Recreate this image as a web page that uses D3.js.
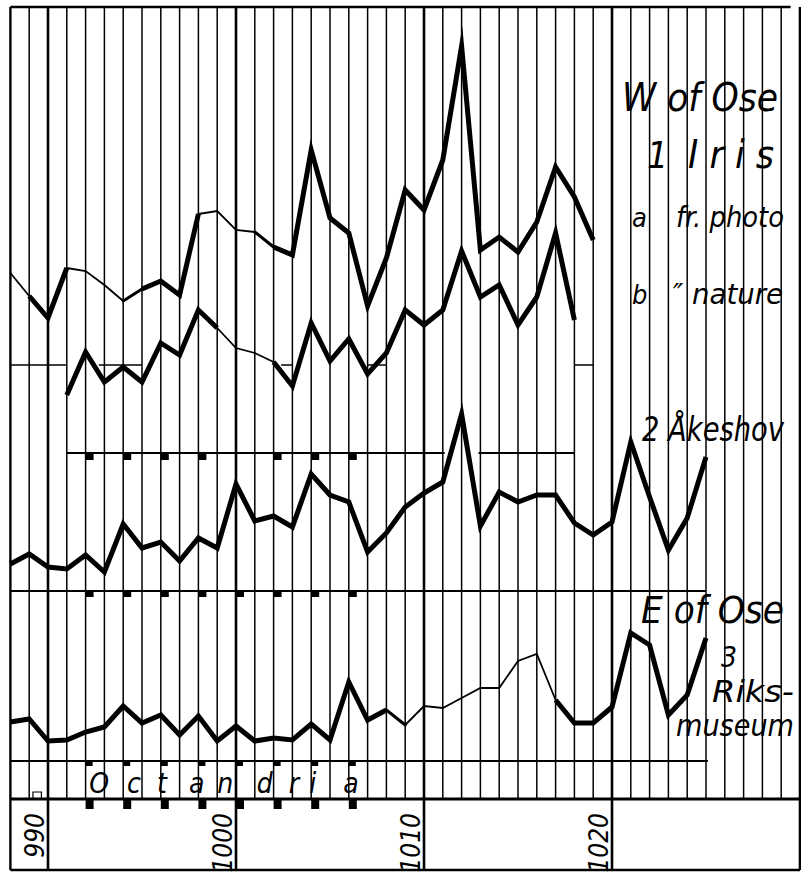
<!DOCTYPE html>
<html>
<head>
<meta charset="utf-8">
<script src="https://cdn.jsdelivr.net/npm/d3@7/dist/d3.min.js"></script>
<style>
body { margin: 0; background: #fff; }
svg { display: block; }
text { font-family: "DejaVu Sans Condensed", "DejaVu Sans", sans-serif; font-style: italic; fill: #000; }
</style>
</head>
<body>
<svg id="chart" width="801" height="872"></svg>
<script>
// years on the horizontal axis
var years = [988,989,990,991,992,993,994,995,996,997,998,999,1000,1001,1002,1003,1004,1005,1006,1007,
	1008,1009,1010,1011,1012,1013,1014,1015,1016,1017,1018,1019,1020,1021,1022,1023,1024,1025];
var decadeLabels = [990, 1000, 1010, 1020];

// ring values (null = no record)
var irisPhoto = [12.7,10.4,8.2,13.2,12.9,11.5,9.9,11.1,11.9,10.5, 18.6,18.9,17.0,16.8,15.3,14.5,25.0,18.2,16.7,9.4,
	14.2,21.0,19.0,24.0,35.4,15.0,16.3,14.8,17.8,23.3, 20.3,16.0,null,null,null,null,null,null];
var irisNature = [null,null,null,0.5,4.8,1.8,3.3,1.8,5.7,4.5, 9.0,7.2,5.2,4.7,3.8,1.4,7.7,3.9,6.1,2.6,
	4.7,9.0,7.5,9.0,14.9,10.3,11.5,7.5,10.3,16.7, 8.0,null,null,null,null,null,null,null];
var akeshov = [3.6,4.6,3.3,3.1,4.5,2.8,7.6,5.2,5.8,3.9, 6.2,5.2,11.6,7.9,8.4,7.3,12.6,10.5,9.8,4.8,
	6.7,9.3,10.7,11.8,18.6,7.4,10.8,9.8,10.5,10.5, 7.7,6.5,7.8,15.8,10.3,5.0,8.2,14.3];
var riksmuseum = [3.8,4.1,1.9,2.0,2.8,3.3,5.4,3.7,4.5,2.5, 4.4,1.9,3.4,1.9,2.2,2.0,3.6,2.0,7.8,4.0,
	5.0,3.5,5.4,5.2,6.2,7.2,7.2,9.9,10.6,6.0, 3.7,3.7,5.3,12.7,11.5,4.5,6.5,12.2];

// certainty of the segment ending at each year: 0 weak, 1 medium, 2 sure
var irisPhotoQ = [null,0,2,2,0,0,0,1,2,2, 2,0,0,0,1,2,2,2,2,2, 2,2,2,2,2,2,2,2,2,2, 2,2,null,null,null,null,null,null];
var irisNatureQ = [null,null,null,null,2,2,2,2,2,2, 2,2,0,0,0,2,2,2,2,2, 2,2,2,2,2,2,2,2,2,2, 2,null,null,null,null,null,null,null];
var akeshovQ = [null,2,2,2,2,2,2,2,2,2, 2,2,2,2,2,2,2,2,2,2, 2,2,2,2,2,2,2,2,2,2, 2,2,2,2,2,2,2,2];
var riksmuseumQ = [null,2,2,2,2,2,2,2,2,2, 2,2,2,2,2,2,2,2,2,2, 2,1,0,0,0,0,0,0,0,0, 2,2,2,2,2,2,2,2];

var markerYears = [992, 994, 996, 998, 1000, 1002, 1004, 1006];
var octandria = ["O","c","t","a","n","d","r","i","a"];
var octandriaAt = [992.2, 994.2, 995.8, 997.5, 999.0, 1001.1, 1002.8, 1003.9, 1005.7];

var svg = d3.select("#chart");

var x = d3.scaleLinear().domain([990, 1020]).range([48, 612]);
var y1 = d3.scaleLinear().domain([0, 40]).range([400, 0]);
var y2 = d3.scaleLinear().domain([0, 20]).range([600, 400]);
var y3 = d3.scaleLinear().domain([0, 20]).range([760, 560]);
var w = d3.scaleOrdinal().domain([0, 1, 2]).range([1.8, 3, 5]);

var grid = svg.append("g");

// vertical year rules
var allYears = d3.range(988, 1031);
grid.selectAll("line.yr")
	.data(allYears)
	.enter().append("line")
	.attr("x1", function(d) { return x(d); })
	.attr("x2", function(d) { return x(d); })
	.attr("y1", 7)
	.attr("y2", function(d) { return (d % 10 == 0 || d == 988 || d == 1030) ? 870 : 799; })
	.attr("stroke", "#000")
	.attr("stroke-width", function(d) { return (d % 10 == 0) ? 2.6 : (d == 988 ? 2.4 : 1.5); });

// horizontal rules
function hrule(y, from, to, sw) {
	grid.append("line")
		.attr("x1", x(from)).attr("x2", x(to))
		.attr("y1", y).attr("y2", y)
		.attr("stroke", "#000").attr("stroke-width", sw);
}
hrule(7, 988, 1029.5, 2.4);
[[988,991],[992.7,995],[1002.4,1003],[1007,1008],[1018,1019]].forEach(function(s) { hrule(365, s[0], s[1], 1.5); });
[[991,1011.1],[1012.9,1018]].forEach(function(s) { hrule(453, s[0], s[1], 1.8); });
hrule(591, 988, 1025, 1.8);
hrule(761, 988, 1025.1, 1.8);
hrule(799, 988, 1030, 3);
hrule(870, 988, 1030, 2.4);

// small black squares along the rules
function markers(y, h, wd, skip) {
	grid.selectAll(null)
		.data(markerYears.filter(function(d) { return d != skip; }))
		.enter().append("rect")
		.attr("x", function(d) { return x(d); })
		.attr("y", y)
		.attr("width", wd)
		.attr("height", h)
		.attr("fill", "#000");
}
markers(453, 7, 8, 1000);
markers(591, 6, 8);
markers(761, 5, 7);
markers(799, 10, 8);

// tiny mark in first cell
grid.append("path")
	.attr("d", "M" + x(989.2) + ",799V792H" + x(989.65) + "V799")
	.attr("fill", "none").attr("stroke", "#000").attr("stroke-width", 1.2);

// series drawn piece by piece, thickness after certainty
function drawSeries(values, quality, yScale) {
	var runs = [], cur = null;
	for (var i = 1; i < years.length; i++) {
		if (values[i - 1] == null || values[i] == null) { cur = null; continue; }
		var q = quality[i];
		if (cur && cur.q == q) {
			cur.pts.push(i);
		} else {
			cur = { q: q, pts: [i - 1, i] };
			runs.push(cur);
		}
	}
	var line = d3.line()
		.x(function(i) { return x(years[i]); })
		.y(function(i) { return yScale(values[i]); });
	svg.append("g").selectAll("path")
		.data(runs)
		.enter().append("path")
		.attr("d", function(r) { return line(r.pts); })
		.attr("fill", "none")
		.attr("stroke", "#000")
		.attr("stroke-width", function(r) { return w(r.q); })
		.attr("stroke-linejoin", "miter")
		.attr("stroke-miterlimit", 10)
		.attr("stroke-linecap", function(r) { return r.q == 2 ? "butt" : "round"; });
}
drawSeries(irisPhoto, irisPhotoQ, y1);
drawSeries(irisNature, irisNatureQ, y1);
drawSeries(akeshov, akeshovQ, y2);
drawSeries(riksmuseum, riksmuseumQ, y3);

// labels
function label(t, px, py, size, len, adj) {
	var el = svg.append("text")
		.attr("x", px).attr("y", py)
		.attr("font-size", size)
		.text(t);
	if (len) el.attr("textLength", len).attr("lengthAdjust", adj || "spacingAndGlyphs");
	return el;
}
label("W of Ose", 622, 111, 39, 156);
label("1", 647, 168, 37);
label("Iris", 688, 168, 39, 86, "spacing");
label("a", 632, 227, 27);
label("fr. photo", 676, 227, 28, 108);
label("b", 632, 304, 27);
label("\u2033 nature", 673, 304, 28, 110);
label("2 \u00C5keshov", 642, 441, 34, 142);
label("E of Ose", 641, 623, 37, 143);
label("3", 721, 667, 28);
label("Riks-", 712, 702, 30, 82);
label("museum", 676, 736, 30, 118);

svg.append("g").selectAll("text")
	.data(octandria)
	.enter().append("text")
	.attr("x", function(d, i) { return x(octandriaAt[i]); })
	.attr("y", 793)
	.attr("font-size", 28)
	.text(function(d) { return d; });

svg.append("g").selectAll("text")
	.data(decadeLabels)
	.enter().append("text")
	.attr("transform", function(d) { return "translate(" + (x(d) - 4) + ",813) rotate(-90)"; })
	.attr("text-anchor", "end")
	.attr("font-size", 26)
	.text(function(d) { return d; });
</script>
</body>
</html>
